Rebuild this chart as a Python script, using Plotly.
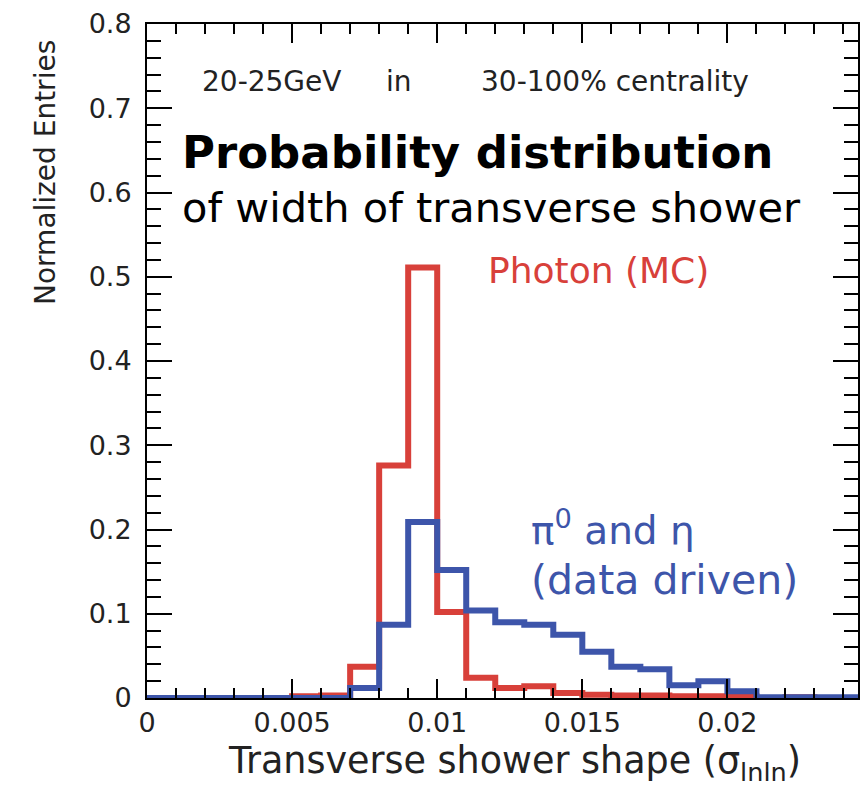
import plotly.graph_objects as go

# bin low edges of the histograms (width 0.001)
bin_edges = [0.000, 0.001, 0.002, 0.003, 0.004, 0.005, 0.006, 0.007, 0.008, 0.009,
             0.010, 0.011, 0.012, 0.013, 0.014, 0.015, 0.016, 0.017, 0.018, 0.019,
             0.020, 0.021, 0.022, 0.023, 0.024, 0.025]

# normalized entries per bin
photon_mc = [0, 0, 0, 0, 0, 0.002, 0.003, 0.037, 0.276, 0.511,
             0.102, 0.024, 0.012, 0.014, 0.006, 0.004, 0.003, 0.003, 0.002, 0.002,
             0.002, 0, 0.001, 0, 0]
pi0_eta = [0, 0, 0, 0, 0, 0, 0, 0.012, 0.087, 0.209,
           0.152, 0.104, 0.090, 0.087, 0.075, 0.055, 0.037, 0.034, 0.015, 0.020,
           0.008, 0.001, 0.001, 0.001, 0.001]

RED = "#d8403a"
BLUE = "#3d55aa"
FONT = "DejaVu Sans"


def step(vals):
    # repeat the last value so the hv line closes the final bin
    return vals + [vals[-1]]


fig = go.Figure()
fig.add_trace(go.Scatter(x=bin_edges, y=step(photon_mc), mode="lines",
                         line=dict(color=RED, width=6, shape="hv"),
                         cliponaxis=False, showlegend=False))
fig.add_trace(go.Scatter(x=bin_edges, y=step(pi0_eta), mode="lines",
                         line=dict(color=BLUE, width=6, shape="hv"),
                         cliponaxis=False, showlegend=False))

axis_common = dict(showline=True, linecolor="black", linewidth=2, mirror="allticks",
                   ticks="inside", tickcolor="black", tickwidth=2, showgrid=False,
                   zeroline=False, tickfont=dict(family=FONT, size=27, color="#222"))

fig.update_xaxes(range=[0, 0.0245], dtick=0.005, tick0=0, ticklen=19,
                 minor=dict(dtick=0.001, ticklen=10, ticks="inside", tickcolor="black",
                            tickwidth=2, showgrid=False),
                 ticklabelstandoff=0, **axis_common)
fig.update_yaxes(range=[0, 0.8], dtick=0.1, tick0=0, ticklen=25,
                 minor=dict(dtick=0.02, ticklen=14, ticks="inside", tickcolor="black",
                            tickwidth=2, showgrid=False),
                 ticklabelstandoff=8, **axis_common)

notes = [
    dict(text="20-25GeV", x=0.074, y=0.914, size=28, color="#222"),
    dict(text="in", x=0.334, y=0.914, size=28, color="#222"),
    dict(text="30-100% centrality", x=0.467, y=0.914, size=28, color="#222"),
    dict(text="<b>Probability distribution</b>", x=0.046, y=0.810, size=45, color="black"),
    dict(text="of width of transverse shower", x=0.046, y=0.728, size=41.5, color="black"),
    dict(text="Photon (MC)", x=0.477, y=0.635, size=36, color=RED),
    dict(text="π<sup>0</sup> and η", x=0.537, y=0.252, size=39, color=BLUE),
    dict(text="(data driven)", x=0.537, y=0.175, size=41, color=BLUE),
]
for n in notes:
    fig.add_annotation(text=n["text"], xref="paper", yref="paper", x=n["x"], y=n["y"],
                       xanchor="left", yanchor="middle", showarrow=False,
                       font=dict(family=FONT, size=n["size"], color=n["color"]))

# axis titles placed like the ROOT canvas (right / top aligned)
fig.add_annotation(text="Transverse shower shape (σ<sub>lnln</sub>)", xref="paper", yref="paper",
                   x=0.923, y=-0.097, xanchor="right", yanchor="middle", showarrow=False,
                   font=dict(family=FONT, size=36.5, color="#222"))
fig.add_annotation(text="Normalized Entries", xref="paper", yref="paper", textangle=-90,
                   x=-0.143, y=0.979, xanchor="center", yanchor="top", showarrow=False,
                   font=dict(family=FONT, size=28, color="#222"))

fig.update_layout(width=863, height=790, margin=dict(l=147, r=3, t=24, b=92),
                  plot_bgcolor="white", paper_bgcolor="white",
                  font=dict(family=FONT))

# drop the browser's default body margin so the figure sits at the page corner
fig.write_html("out.html", config={"displayModeBar": False},
               post_script="document.body.style.margin='0';"
                           "document.documentElement.style.overflow='hidden';")
